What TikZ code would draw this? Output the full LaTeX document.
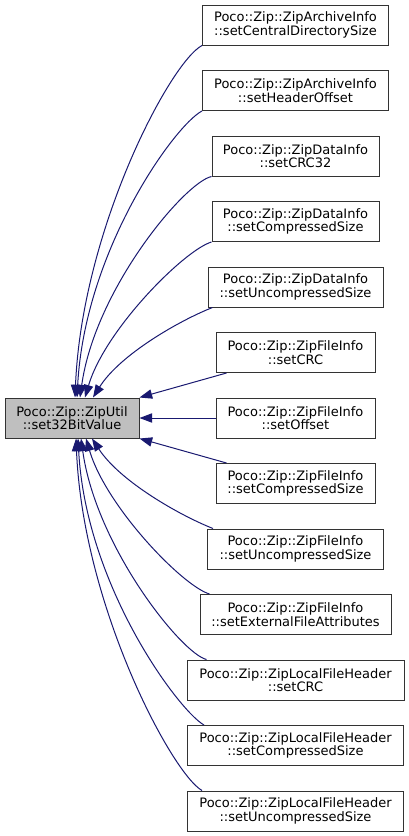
\documentclass[tikz,border=0pt]{standalone}
\usepackage{fontspec}
\setmainfont{DejaVu Sans}
\usetikzlibrary{arrows.meta, calc, positioning}
\definecolor{edgeblue}{HTML}{191970}
\tikzset{
  current/.style={rectangle, minimum height=30pt, inner sep=2pt, align=center, draw=black!80, line width=0.75pt, fill=black!25, font=\fontsize{9.75}{10}\selectfont},
  caller/.style={rectangle, minimum height=30pt, inner sep=2pt, align=center, draw=black!80, line width=0.75pt, fill=white, font=\fontsize{9.75}{10}\selectfont},
  callarrow/.style={draw=edgeblue, line width=0.75pt, -{Triangle[length=9.5pt,width=7pt]}}
}

\begin{document}
\begin{tikzpicture}[x=0.75pt, y=-0.75pt]
    \useasboundingbox (0,0) rectangle (408,836);

    % 1. Funcion llamada
    \node[current, minimum width=100.5pt] (fn) at (72,418) {Poco::Zip::ZipUtil\\::set32BitValue};

    % 2. Funciones que la llaman
    \foreach \i/\cls/\fun/\w in {
        1/ZipArchiveInfo/setCentralDirectorySize/186, 2/ZipArchiveInfo/setHeaderOffset/186,
        3/ZipDataInfo/setCRC32/167, 4/ZipDataInfo/setCompressedSize/167, 5/ZipDataInfo/setUncompressedSize/175,
        6/ZipFileInfo/setCRC/159, 7/ZipFileInfo/setOffset/159, 8/ZipFileInfo/setCompressedSize/159,
        9/ZipFileInfo/setUncompressedSize/176, 10/ZipFileInfo/setExternalFileAttributes/191,
        11/ZipLocalFileHeader/setCRC/217, 12/ZipLocalFileHeader/setCompressedSize/216,
        13/ZipLocalFileHeader/setUncompressedSize/216
    } {
        \node[caller, minimum width=\w*0.75pt] (c\i) at (295.5, {25+65.5*(\i-1)}) {Poco::Zip::\cls\\::\fun};
    }

    % 3. Llamadas desde arriba
    \draw[callarrow] (c1.south west) .. controls +(-32,17) and +(7,-168) .. ($(fn.north)+(3,0)$);
    \draw[callarrow] (c2.south west) .. controls +(-27,14) and +(8,-148) .. ($(fn.north)+(5,0)$);
    \draw[callarrow] (c3.south west) .. controls +(-27,6) and +(15,-108) .. ($(fn.north)+(8,0)$);
    \draw[callarrow] (c4.south west) .. controls +(-27,8) and +(20,-68) .. ($(fn.north)+(13,0)$);
    \draw[callarrow] ($(c5.south west)+(5,0)$) .. controls +(-33,13) and +(27,-43) .. ($(fn.north)+(21,0)$);

    % 4. Llamadas casi horizontales
    \draw[callarrow] ($(c6.south west)+(11,0)$) -- (fn.north east);
    \draw[callarrow] (c7) -- (fn);
    \draw[callarrow] ($(c8.north west)+(11,0)$) -- (fn.south east);

    % 5. Llamadas desde abajo
    \draw[callarrow] ($(c9.north west)+(6,0)$) .. controls +(-33,-13) and +(28,43) .. ($(fn.south)+(20,0)$);
    \draw[callarrow] ($(c10.north west)+(10,0)$) .. controls +(-27,-8) and +(20,68) .. ($(fn.south)+(14,0)$);
    \draw[callarrow] ($(c11.north west)+(20,0)$) .. controls +(-25,-6) and +(15,108) .. ($(fn.south)+(9,0)$);
    \draw[callarrow] ($(c12.north west)+(17,0)$) .. controls +(-25,-14) and +(8,148) .. ($(fn.south)+(6,0)$);
    \draw[callarrow] ($(c13.north west)+(15,0)$) .. controls +(-30,-17) and +(7,168) .. ($(fn.south)+(4,0)$);

\end{tikzpicture}
\end{document}
